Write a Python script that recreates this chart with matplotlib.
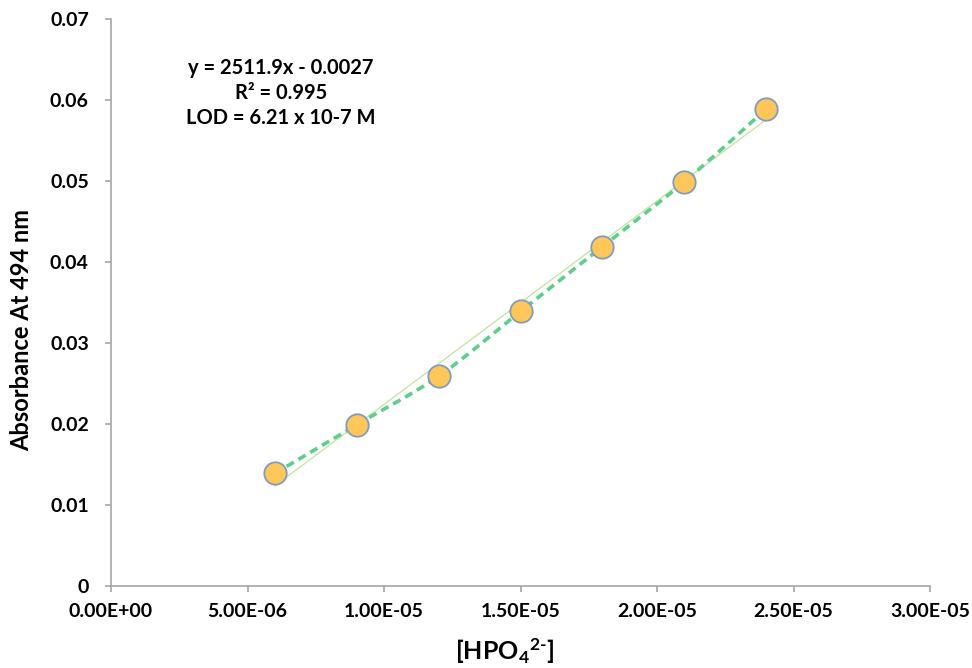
import numpy as np
import matplotlib.pyplot as plt

plt.rcParams['font.family'] = ['Lato', 'DejaVu Sans']
plt.rcParams['mathtext.fontset'] = 'custom'
plt.rcParams['mathtext.bf'] = 'Lato:bold'
plt.rcParams['mathtext.rm'] = 'Lato:bold'
plt.rcParams['mathtext.default'] = 'bf'

# calibration standards
conc = [6.0e-6, 9.0e-6, 1.2e-5, 1.5e-5, 1.8e-5, 2.1e-5, 2.4e-5]
absorb = [0.0139, 0.0199, 0.0259, 0.0339, 0.0419, 0.0499, 0.0589]
slope, intercept = 2511.9, -0.0027

xticks = [0, 5e-6, 1e-5, 1.5e-5, 2e-5, 2.5e-5, 3e-5]
xtick_labels = ['0.00E+00', '5.00E-06', '1.00E-05', '1.50E-05', '2.00E-05', '2.50E-05', '3.00E-05']
yticks = [0, 0.01, 0.02, 0.03, 0.04, 0.05, 0.06, 0.07]
ytick_labels = ['0', '0.01', '0.02', '0.03', '0.04', '0.05', '0.06', '0.07']
fit_lines = ['y = 2511.9x - 0.0027', 'R² = 0.995', 'LOD = 6.21 x 10-7 M']


def smooth_path(x, y, n=30):
    # cardinal bezier through the points, like a spreadsheet "smoothed line"
    x = np.asarray(x, float)
    y = np.asarray(y, float)
    px = np.concatenate([[x[0]], x, [x[-1]]])
    py = np.concatenate([[y[0]], y, [y[-1]]])
    xs, ys = [], []
    t = np.linspace(0, 1, n)
    for i in range(1, len(px) - 2):
        p0 = np.array([px[i], py[i]])
        p3 = np.array([px[i + 1], py[i + 1]])
        p1 = p0 + (np.array([px[i + 1], py[i + 1]]) - np.array([px[i - 1], py[i - 1]])) / 6
        p2 = p3 - (np.array([px[i + 2], py[i + 2]]) - np.array([px[i], py[i]])) / 6
        b = ((1 - t) ** 3)[:, None] * p0 + (3 * (1 - t) ** 2 * t)[:, None] * p1 \
            + (3 * (1 - t) * t ** 2)[:, None] * p2 + (t ** 3)[:, None] * p3
        xs.extend(b[:, 0])
        ys.extend(b[:, 1])
    return np.array(xs), np.array(ys)


W, H = 972, 668
fig = plt.figure(figsize=(W / 100, H / 100), dpi=100)
ax = fig.add_axes([111 / W, 1 - 586 / H, (930 - 111) / W, (586 - 19) / H])

# linear trendline
tx = np.array([conc[0], conc[-1]])
ax.plot(tx, slope * tx + intercept, color='#c5e6a6', lw=1.0, zorder=2)

sx, sy = smooth_path(conc, absorb)
ax.plot(sx, sy, color='#5dcf8a', lw=2.6, ls=(0, (2.3, 1.5)), zorder=3)
ax.scatter(conc, absorb, s=260, color='#ffc65a', edgecolor='#7f9cc0', lw=1.3, zorder=4)

ax.set_xlim(0, 3e-5)
ax.set_ylim(0, 0.07)
ax.set_xticks(xticks)
ax.set_xticklabels(xtick_labels)
ax.set_yticks(yticks)
ax.set_yticklabels(ytick_labels)
for lab in ax.get_xticklabels() + ax.get_yticklabels():
    lab.set_fontweight('bold')
    lab.set_fontsize(14)

for s in ['top', 'right']:
    ax.spines[s].set_visible(False)
for s in ['left', 'bottom']:
    ax.spines[s].set_color('#a6a6a6')
    ax.spines[s].set_linewidth(1.2)
ax.tick_params(colors='#a6a6a6', labelcolor='black', length=4, width=1.2)
ax.tick_params(axis='x', pad=8)
ax.tick_params(axis='y', pad=12)

fig.text(22 / W, 1 - 330 / H, 'Absorbance At 494 nm', rotation=90, fontsize=17,
         fontweight='bold', ha='center', va='center')
fig.text(505 / W, 1 - 651 / H, '[HPO$_4$$^{2\\text{-}}$]', fontsize=18,
         fontweight='bold', ha='center', va='center')

for i, line in enumerate(fit_lines):
    fig.text(281 / W, 1 - (68 + 25 * i) / H, line, fontsize=14.5,
             fontweight='bold', ha='center', va='center')

fig.savefig('out.png', dpi=100, facecolor='white')
